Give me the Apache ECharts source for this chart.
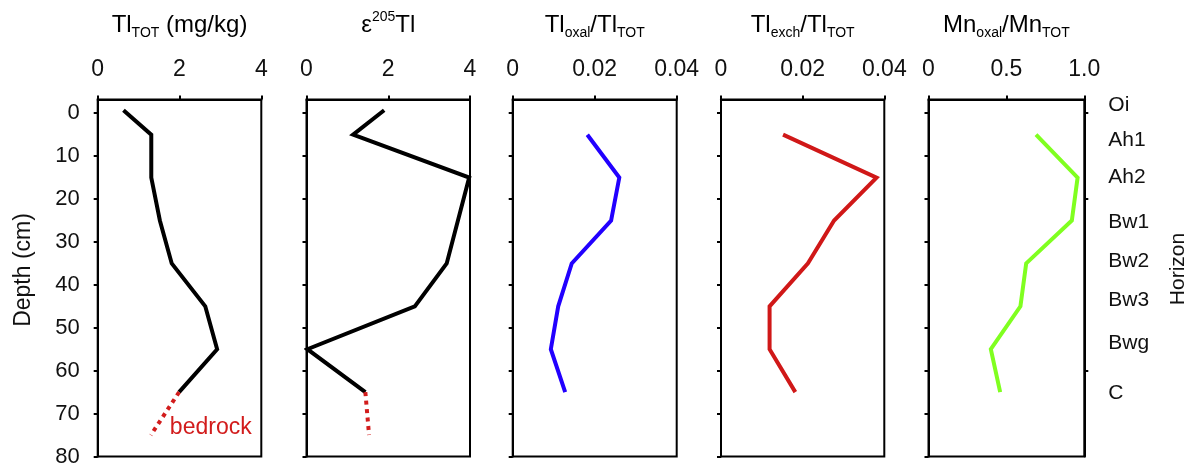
<!DOCTYPE html>
<html><head><meta charset="utf-8">
<script src="https://cdn.jsdelivr.net/npm/echarts@6/dist/echarts.min.js"></script>
<style>html,body{margin:0;padding:0;background:#fff}#c{width:1188px;height:464px}</style>
</head><body><div id="c"></div>
<script>
// ---- data ----
const depthTicks = [0, 10, 20, 30, 40, 50, 60, 70, 80];
const tlTotDepth = [-0.7, 5, 15, 25, 35, 45, 55, 65];
const tlTot = [0.63, 1.31, 1.31, 1.52, 1.81, 2.63, 2.92, 1.99];
const bedrockDepth = [65, 75];
const tlTotBedrock = [1.99, 1.30];
const epsDepth = [-0.7, 5, 15, 35, 45, 55, 65];
const eps205Tl = [1.90, 1.14, 3.98, 3.43, 2.65, 0.02, 1.44];
const eps205TlBedrock = [1.44, 1.53];
const fracDepth = [5, 15, 25, 35, 45, 55, 65];
const tlOxal = [0.0182, 0.0260, 0.0240, 0.0144, 0.0111, 0.0093, 0.0128];
const tlExch = [0.0152, 0.0381, 0.0277, 0.0213, 0.0119, 0.0119, 0.0182];
const mnOxal = [0.69, 0.957, 0.92, 0.627, 0.59, 0.40, 0.46];
const horizonNames = ['Oi', 'Ah1', 'Ah2', 'Bw1', 'Bw2', 'Bw3', 'Bwg', 'C'];
const horizonDepths = [-1.9, 6.2, 14.8, 25.3, 34.6, 43.5, 53.6, 65.3];
const horizonTicks = [0, 20, 60];
const xMin = [0, 0, 0, 0, 0];
const xMax = [4, 4, 0.04, 0.04, 1];
const xStep = [2, 2, 0.02, 0.02, 0.5];
const bedrockText = 'bedrock';

// ---- layout ----
const FONT = 'Liberation Sans, Arial, sans-serif';
const lefts = [97.7, 306.5, 512.7, 721, 928.5];
const widths = [163.6, 163.5, 164, 163.3, 155.8];
const TOP = 99.5, HEIGHT = 357;
const yMin = -3.2, yMax = 80;

const zip = (xs, ys) => xs.map((v, i) => [v, ys[i]]);

const grids = lefts.map((l, i) => ({
  left: l, top: TOP, width: widths[i], height: HEIGHT,
  containLabel: false, outerBoundsMode: 'none',
  show: true, borderColor: '#000', borderWidth: 2, backgroundColor: 'transparent'
}));

function fmtX(i) {
  return function (v) {
    if (i === 4) return v === 1 ? '1.0' : (v === 0 ? '0' : String(v));
    return String(+v.toFixed(4));
  };
}

const xAxes = lefts.map((l, i) => ({
  type: 'value', gridIndex: i, position: 'top', min: xMin[i], max: xMax[i], interval: xStep[i],
  axisLine: { show: true, onZero: false, lineStyle: { color: '#000', width: 2 } },
  axisTick: { show: true, inside: false, length: 4, lineStyle: { color: '#000', width: 2 } },
  axisLabel: { show: true, fontFamily: FONT, fontSize: 23, color: '#111', margin: 18,
    showMinLabel: true, showMaxLabel: true, formatter: fmtX(i) },
  splitLine: { show: false }
}));

const yAxes = lefts.map((l, i) => ({
  type: 'value', gridIndex: i, position: 'left', inverse: true, min: yMin, max: yMax,
  axisLine: { show: true, onZero: false, lineStyle: { color: '#000', width: 2 } },
  axisTick: { show: true, inside: false, length: 4, customValues: depthTicks, lineStyle: { color: '#000', width: 2 } },
  axisLabel: { show: i === 0, customValues: depthTicks, fontFamily: FONT, fontSize: 22, color: '#111', margin: 18 },
  splitLine: { show: false },
  name: i === 0 ? 'Depth (cm)' : '',
  nameLocation: 'middle', nameGap: 63,
  nameTextStyle: { fontFamily: FONT, fontSize: 23, color: '#111', padding: [0, 0, 0, 16] }
}));
// horizon axis on the right of the last panel
yAxes.push({
  type: 'value', gridIndex: 4, position: 'right', inverse: true, min: yMin, max: yMax,
  axisLine: { show: true, onZero: false, lineStyle: { color: '#000', width: 2 } },
  axisTick: { show: true, inside: false, length: 4, customValues: horizonTicks, lineStyle: { color: '#000', width: 2 } },
  axisLabel: { show: true, customValues: horizonDepths, fontFamily: FONT, fontSize: 21, color: '#111', margin: 24,
    formatter: (v) => { const k = horizonDepths.indexOf(v); return k >= 0 ? horizonNames[k] : ''; } },
  splitLine: { show: false },
  name: 'Horizon', nameLocation: 'middle', nameGap: 83,
  nameTextStyle: { fontFamily: FONT, fontSize: 21, color: '#111', padding: [0, 0, 0, 18] }
});

function line(idx, data, color, type) {
  return {
    type: 'line', xAxisIndex: idx, yAxisIndex: idx, data: data,
    showSymbol: false, symbol: 'none', silent: true, animation: false,
    lineStyle: { color: color, width: 4, type: type || 'solid', cap: 'butt', join: 'miter' },
    z: 3
  };
}
const RED = '#d21c1c';
const series = [
  line(0, zip(tlTot, tlTotDepth), '#000'),
  line(0, zip(tlTotBedrock, bedrockDepth), RED, [4, 4.5]),
  line(1, zip(eps205Tl, epsDepth), '#000'),
  line(1, zip(eps205TlBedrock, bedrockDepth), RED, [4, 4.5]),
  line(2, zip(tlOxal, fracDepth), '#2200ff'),
  line(3, zip(tlExch, fracDepth), '#d01818'),
  line(4, zip(mnOxal, fracDepth), '#80ff20'),
  {
    type: 'scatter', xAxisIndex: 0, yAxisIndex: 0, silent: true, animation: false,
    symbol: 'circle', symbolSize: 0, itemStyle: { color: RED, opacity: 1 },
    data: [[tlTotBedrock[1], bedrockDepth[1]]],
    label: { show: true, formatter: bedrockText, position: 'right', distance: 5, offset: [14, -7],
      fontFamily: FONT, fontSize: 23, color: RED, opacity: 1 }
  }
];

const richMain = { fontFamily: FONT, fontSize: 24, lineHeight: 30, color: '#111' };
const richSub = { fontFamily: FONT, fontSize: 14, lineHeight: 11, color: '#111', verticalAlign: 'bottom' };
const richSup = { fontFamily: FONT, fontSize: 14, lineHeight: 22, color: '#111', verticalAlign: 'top' };
const titles = [
  '{a|Tl}{s|TOT}{a| (mg/kg)}',
  '{a|ε}{p|205}{a|Tl}',
  '{a|Tl}{s|oxal}{a|/Tl}{s|TOT}',
  '{a|Tl}{s|exch}{a|/Tl}{s|TOT}',
  '{a|Mn}{s|oxal}{a|/Mn}{s|TOT}'
];
const graphics = titles.map((t, i) => ({
  type: 'text', x: lefts[i] + widths[i] / 2, y: 25.5, silent: true,
  style: { text: t, align: 'center', verticalAlign: 'middle',
    rich: { a: richMain, s: richSub, p: richSup } }
}));

const chart = echarts.init(document.getElementById('c'), null, { renderer: 'canvas' });
chart.setOption({
  animation: false,
  backgroundColor: '#fff',
  textStyle: { fontFamily: FONT },
  grid: grids,
  xAxis: xAxes,
  yAxis: yAxes,
  series: series,
  graphic: graphics
});
</script>
</body></html>
